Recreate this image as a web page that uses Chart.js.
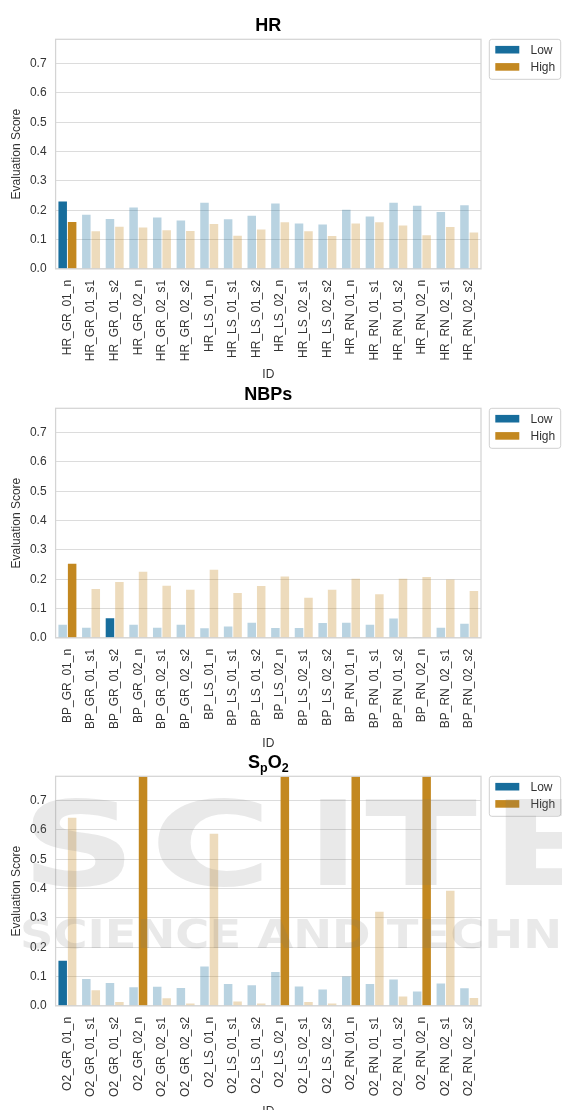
<!DOCTYPE html>
<html>
<head>
<meta charset="utf-8">
<script src="https://cdn.jsdelivr.net/npm/chart.js@4.4.1/dist/chart.umd.min.js"></script>
<style>
  html, body { margin: 0; padding: 0; background: #ffffff; width: 562px; height: 1110px; overflow: hidden; }
  .panel { position: absolute; left: 0; width: 562px; height: 382px; }
  #mark { position: absolute; left: 0; top: 0; pointer-events: none; }
</style>
</head>
<body>
<div class="panel" style="top:0px"><canvas id="hrChart" width="562" height="382"></canvas></div>
<div class="panel" style="top:369px"><canvas id="bpChart" width="562" height="382"></canvas></div>
<div class="panel" style="top:737.4px"><canvas id="o2Chart" width="562" height="382"></canvas></div>
<canvas id="mark" width="562" height="1110"></canvas>
<script>
// ---- data -------------------------------------------------------------
const hrIds = ['HR_GR_01_n','HR_GR_01_s1','HR_GR_01_s2','HR_GR_02_n','HR_GR_02_s1','HR_GR_02_s2',
               'HR_LS_01_n','HR_LS_01_s1','HR_LS_01_s2','HR_LS_02_n','HR_LS_02_s1','HR_LS_02_s2',
               'HR_RN_01_n','HR_RN_01_s1','HR_RN_01_s2','HR_RN_02_n','HR_RN_02_s1','HR_RN_02_s2'];
const hrLow  = [0.230,0.185,0.170,0.209,0.175,0.165,0.226,0.169,0.181,0.223,0.155,0.151,0.202,0.179,0.226,0.215,0.194,0.217];
const hrHigh = [0.160,0.128,0.144,0.141,0.132,0.129,0.153,0.113,0.134,0.159,0.128,0.112,0.155,0.159,0.148,0.115,0.143,0.124];

const bpIds = ['BP_GR_01_n','BP_GR_01_s1','BP_GR_01_s2','BP_GR_02_n','BP_GR_02_s1','BP_GR_02_s2',
               'BP_LS_01_n','BP_LS_01_s1','BP_LS_01_s2','BP_LS_02_n','BP_LS_02_s1','BP_LS_02_s2',
               'BP_RN_01_n','BP_RN_01_s1','BP_RN_01_s2','BP_RN_02_n','BP_RN_02_s1','BP_RN_02_s2'];
const bpLow  = [0.045,0.035,0.067,0.045,0.035,0.045,0.033,0.039,0.052,0.034,0.034,0.051,0.052,0.045,0.066,0.002,0.035,0.048];
const bpHigh = [0.253,0.167,0.191,0.226,0.178,0.164,0.232,0.153,0.177,0.209,0.137,0.164,0.202,0.149,0.202,0.208,0.199,0.160];

const o2Ids = ['O2_GR_01_n','O2_GR_01_s1','O2_GR_01_s2','O2_GR_02_n','O2_GR_02_s1','O2_GR_02_s2',
               'O2_LS_01_n','O2_LS_01_s1','O2_LS_01_s2','O2_LS_02_n','O2_LS_02_s1','O2_LS_02_s2',
               'O2_RN_01_n','O2_RN_01_s1','O2_RN_01_s2','O2_RN_02_n','O2_RN_02_s1','O2_RN_02_s2'];
const o2Low  = [0.154,0.092,0.078,0.064,0.065,0.061,0.134,0.075,0.070,0.116,0.066,0.056,0.100,0.075,0.090,0.049,0.076,0.060];
const o2High = [0.642,0.053,0.013,1.000,0.026,0.008,0.587,0.015,0.008,1.000,0.013,0.008,1.000,0.321,0.032,1.000,0.393,0.027];

// indices of the emphasised bars in each series
const hrLowMarked = [0],  hrHighMarked = [0];
const bpLowMarked = [2],  bpHighMarked = [0];
const o2LowMarked = [0],  o2HighMarked = [3, 9, 12, 15];

const yTicks = [0.0, 0.1, 0.2, 0.3, 0.4, 0.5, 0.6, 0.7];
const seriesNames = ['Low', 'High'];

// ---- styling ----------------------------------------------------------
const FONT = '"Liberation Sans", Arial, Helvetica, sans-serif';
const TEXT = '#333333';
const LOW_FULL  = 'rgb(23,109,156)';
const LOW_FADED = 'rgba(23,109,156,0.3)';
const HIGH_FULL  = 'rgb(195,136,32)';
const HIGH_FADED = 'rgba(195,136,32,0.3)';
const Y_MAX = 0.783;

// title drawn above the plot; parts may be subscripts
const titlePlugin = {
  id: 'panelTitle',
  afterDraw(chart, args, opts) {
    const ctx = chart.ctx, a = chart.chartArea;
    const parts = opts.parts || [];
    const big = 'bold 18px ' + FONT, small = 'bold 12.5px ' + FONT;
    ctx.save();
    let total = 0;
    parts.forEach(p => { ctx.font = p.sub ? small : big; total += ctx.measureText(p.text).width; });
    let x = (a.left + a.right) / 2 - total / 2;
    ctx.fillStyle = '#000000';
    ctx.textBaseline = 'alphabetic';
    ctx.textAlign = 'left';
    parts.forEach(p => {
      ctx.font = p.sub ? small : big;
      ctx.fillText(p.text, x, p.sub ? 35 : 31);
      x += ctx.measureText(p.text).width;
    });
    ctx.restore();
  }
};

// spines around the plot
const framePlugin = {
  id: 'frame',
  afterDatasetsDraw(chart) {
    const ctx = chart.ctx, a = chart.chartArea;
    ctx.save();
    ctx.strokeStyle = '#d4d4d4';
    ctx.lineWidth = 1.25;
    ctx.strokeRect(a.left, a.top, a.right - a.left, a.bottom - a.top);
    ctx.restore();
  }
};

// legend box to the right of the plot
const legendPlugin = {
  id: 'sideLegend',
  afterDraw(chart) {
    const ctx = chart.ctx;
    const x0 = 489.3, y0 = 39.3, w = 71.4, h = 40, r = 2.5;
    ctx.save();
    ctx.beginPath();
    ctx.moveTo(x0 + r, y0);
    ctx.arcTo(x0 + w, y0, x0 + w, y0 + h, r);
    ctx.arcTo(x0 + w, y0 + h, x0, y0 + h, r);
    ctx.arcTo(x0, y0 + h, x0, y0, r);
    ctx.arcTo(x0, y0, x0 + w, y0, r);
    ctx.closePath();
    ctx.fillStyle = 'rgba(255,255,255,0.8)';
    ctx.fill();
    ctx.strokeStyle = '#d0d0d0';
    ctx.lineWidth = 1;
    ctx.stroke();
    const colors = [LOW_FULL, HIGH_FULL];
    const rows = [49.7, 66.9];
    ctx.font = '12px ' + FONT;
    ctx.textBaseline = 'middle';
    ctx.textAlign = 'left';
    seriesNames.forEach((name, i) => {
      ctx.fillStyle = colors[i];
      ctx.fillRect(495.3, rows[i] - 3.8, 24, 7.6);
      ctx.fillStyle = TEXT;
      ctx.fillText(name, 530.5, rows[i] + 0.5);
    });
    ctx.restore();
  }
};

function shade(values, marked, full, faded) {
  return values.map((_, i) => marked.includes(i) ? full : faded);
}

function makeChart(id, ids, low, high, lowMarked, highMarked, titleParts) {
  return new Chart(document.getElementById(id), {
    type: 'bar',
    data: {
      labels: ids,
      datasets: [
        { label: seriesNames[0], data: low, backgroundColor: shade(low, lowMarked, LOW_FULL, LOW_FADED),
          categoryPercentage: 0.8, barPercentage: 0.9, borderWidth: 0 },
        { label: seriesNames[1], data: high, backgroundColor: shade(high, highMarked, HIGH_FULL, HIGH_FADED),
          categoryPercentage: 0.8, barPercentage: 0.9, borderWidth: 0 }
      ]
    },
    options: {
      responsive: false,
      animation: false,
      devicePixelRatio: 1,
      layout: { padding: { left: 0, right: 81, top: 39.3, bottom: 0 } },
      plugins: {
        legend: { display: false },
        title: { display: false },
        tooltip: { enabled: false },
        panelTitle: { parts: titleParts }
      },
      scales: {
        x: {
          grid: { display: false, drawTicks: false },
          border: { display: false },
          ticks: { minRotation: 90, maxRotation: 90, autoSkip: false, padding: 11,
                   color: TEXT, font: { family: FONT, size: 12 } },
          title: { display: true, text: 'ID', color: TEXT, font: { family: FONT, size: 12 },
                   padding: { top: 0, bottom: 0 } },
          afterFit(s) { s.height = 113.1; }
        },
        y: {
          min: 0, max: Y_MAX,
          afterBuildTicks(s) { s.ticks = yTicks.map(v => ({ value: v })); },
          ticks: { padding: 9, color: TEXT, font: { family: FONT, size: 12 },
                   callback: v => Number(v).toFixed(1) },
          grid: { color: '#dcdcdc', lineWidth: 1, drawTicks: false },
          border: { display: false },
          title: { display: true, text: 'Evaluation Score', color: TEXT, font: { family: FONT, size: 12 },
                   padding: { top: 9.3, bottom: 0 } },
          afterFit(s) { s.width = 55.6; }
        }
      }
    },
    plugins: [titlePlugin, framePlugin, legendPlugin]
  });
}

makeChart('hrChart', hrIds, hrLow, hrHigh, hrLowMarked, hrHighMarked, [{ text: 'HR' }]);
makeChart('bpChart', bpIds, bpLow, bpHigh, bpLowMarked, bpHighMarked, [{ text: 'NBPs' }]);
makeChart('o2Chart', o2Ids, o2Low, o2High, o2LowMarked, o2HighMarked,
          [{ text: 'S' }, { text: 'p', sub: true }, { text: 'O' }, { text: '2', sub: true }]);

// faint publisher mark laid over the lower part of the page
(function drawMark() {
  const ctx = document.getElementById('mark').getContext('2d');
  ctx.fillStyle = 'rgba(120,120,120,0.16)';
  ctx.textBaseline = 'alphabetic';
  ctx.textAlign = 'left';
  const letters = [['S', 21, 115], ['C', 150, 122], ['I', 308, 50], ['T', 365, 112], ['E', 491, 110]];
  ctx.font = 'bold 118px "DejaVu Sans", sans-serif';
  letters.forEach(([ch, x, w]) => {
    const m = ctx.measureText(ch).width;
    ctx.save();
    ctx.translate(x, 885);
    ctx.scale(w / m, 1);
    ctx.fillText(ch, 0, 0);
    ctx.restore();
  });
  ctx.font = 'bold 39px "DejaVu Sans", sans-serif';
  const line = 'SCIENCE AND TECHNOLOGY';
  const part = ctx.measureText('SCIENCE AND TECHN').width;
  ctx.save();
  ctx.translate(20, 948);
  ctx.scale(542 / part, 1);
  ctx.fillText(line, 0, 0);
  ctx.restore();
})();
</script>
</body>
</html>
